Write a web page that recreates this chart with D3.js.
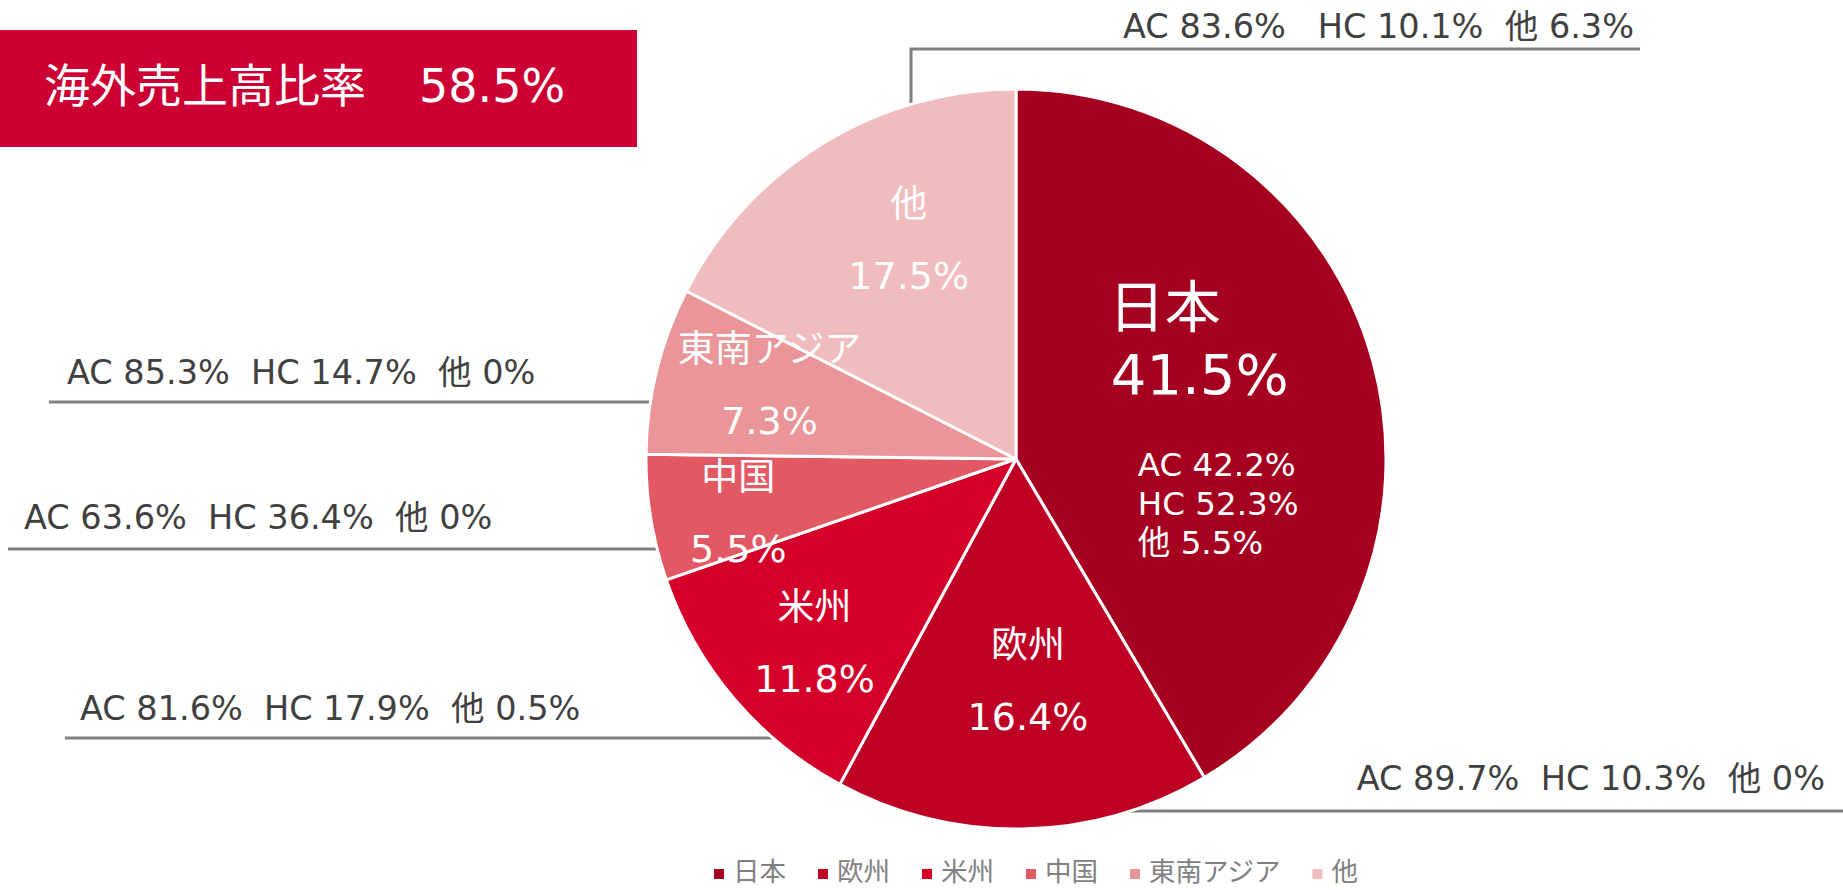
<!DOCTYPE html>
<html>
<head>
<meta charset="utf-8">
<script src="https://cdn.jsdelivr.net/npm/d3@7"></script>
<style>
  body { margin: 0; background: #fff; }
  text { white-space: pre; }
</style>
</head>
<body>
<div id="chart"></div>
<script>
// Data
var regions = ['日本', '欧州', '米州', '中国', '東南アジア', '他'];
var shares = [41.5, 16.4, 11.8, 5.5, 7.3, 17.5];
var acShares = [42.2, 89.7, 81.6, 63.6, 85.3, 83.6];
var hcShares = [52.3, 10.3, 17.9, 36.4, 14.7, 10.1];
var otherShares = [5.5, 0, 0.5, 0, 0, 6.3];
var overseasRatio = 58.5;
var colors = ['#A5001F', '#BF0025', '#D5002A', '#E35963', '#EA9597', '#F0BCBE'];

var data = regions.map(function (r, i) {
  return { name: r, share: shares[i], ac: acShares[i], hc: hcShares[i], other: otherShares[i], color: colors[i] };
});

var fmt = function (v) {
  return v === 0 ? '0%' : d3.format('.1f')(v) + '%';
};

// SVG
var chart_width = 1843;
var chart_height = 890;
var cx = 1016, cy = 459, radius = 370;
var fontLatin = '"DejaVu Sans", "Noto Sans CJK JP", sans-serif';

var svg = d3.select('#chart')
  .append('svg')
  .attr('width', chart_width)
  .attr('height', chart_height)
  .style('display', 'block');

// Title box
svg.append('rect')
  .attr('x', 0).attr('y', 30)
  .attr('width', 637).attr('height', 117)
  .attr('fill', '#CC0033');
svg.append('text')
  .attr('x', 44).attr('y', 102)
  .attr('fill', '#fff')
  .style('font-family', '"Noto Sans CJK JP", sans-serif')
  .style('font-size', '46px')
  .text('海外売上高比率');
svg.append('text')
  .attr('x', 419).attr('y', 102)
  .attr('fill', '#fff')
  .style('font-family', fontLatin)
  .style('font-size', '46px')
  .text(d3.format('.1f')(overseasRatio) + '%');

// Callout leader lines (drawn behind the pie)
// layout per region: line y, outer x end, text anchor point
var callouts = [
  null,
  { lineY: 811, x0: 1843, tx: 1825, ty: 790, anchor: 'end', sep: '  ' },
  { lineY: 738, x0: 65, tx: 80, ty: 720, anchor: 'start', sep: '  ' },
  { lineY: 549, x0: 8, tx: 24, ty: 529, anchor: 'start', sep: '  ' },
  { lineY: 402, x0: 49, tx: 67, ty: 384, anchor: 'start', sep: '  ' },
  { lineY: 49, x0: 1640, vx: 911, tx: 1634, ty: 38, anchor: 'end', sep: '   ' }
];

var lines = svg.append('g');
callouts.forEach(function (c, i) {
  if (!c) return;
  var d = data[i];
  var path = c.vx !== undefined
    ? 'M' + c.x0 + ',' + c.lineY + 'H' + c.vx + 'V' + cy
    : 'M' + c.x0 + ',' + c.lineY + 'H' + cx;
  lines.append('path')
    .attr('d', path)
    .attr('fill', 'none')
    .attr('stroke', '#808080')
    .attr('stroke-width', 3);
  lines.append('text')
    .attr('x', c.tx).attr('y', c.ty)
    .attr('text-anchor', c.anchor)
    .attr('fill', '#404040')
    .style('font-family', fontLatin)
    .style('font-size', '33.5px')
    .text('AC ' + fmt(d.ac) + c.sep + 'HC ' + fmt(d.hc) + '  他 ' + fmt(d.other));
});

// Pie
var pie = d3.pie().sort(null).value(function (d) { return d.share; });
var arc = d3.arc().innerRadius(0).outerRadius(radius);
var labelArc = d3.arc().innerRadius(radius * 0.7).outerRadius(radius * 0.7);

var g = svg.append('g').attr('transform', 'translate(' + cx + ',' + cy + ')');

g.selectAll('path.slice')
  .data(pie(data))
  .enter()
  .append('path')
  .attr('class', 'slice')
  .attr('d', arc)
  .attr('fill', function (d) { return d.data.color; })
  .attr('stroke', '#fff')
  .attr('stroke-width', 3)
  .attr('stroke-linejoin', 'round');

// Label nudges from the centroid (placement only)
var nudges = [[-155, -64], [7, -60], [-4, -7], [-22, -10], [5, -35], [28, -21]];

g.selectAll('g.label')
  .data(pie(data))
  .enter()
  .append('g')
  .attr('class', 'label')
  .each(function (d, i) {
    var c = labelArc.centroid(d);
    var x = c[0] + nudges[i][0];
    var y = c[1] + nudges[i][1];
    var sel = d3.select(this);
    if (i === 0) {
      sel.append('text')
        .attr('x', x - 2).attr('y', y)
        .attr('fill', '#fff')
        .style('font-family', fontLatin)
        .style('font-size', '56px')
        .text(d.data.name);
      sel.append('text')
        .attr('x', x).attr('y', y + 67)
        .attr('fill', '#fff')
        .style('font-family', fontLatin)
        .style('font-size', '56px')
        .text(fmt(d.data.share));
      var sub = ['AC ' + fmt(d.data.ac), 'HC ' + fmt(d.data.hc), '他 ' + fmt(d.data.other)];
      sub.forEach(function (s, k) {
        sel.append('text')
          .attr('x', x + 27).attr('y', y + 149 + k * 39)
          .attr('fill', '#fff')
          .style('font-family', fontLatin)
          .style('font-size', '32.5px')
          .text(s);
      });
    } else {
      sel.append('text')
        .attr('x', x).attr('y', y)
        .attr('text-anchor', 'middle')
        .attr('fill', '#fff')
        .style('font-family', fontLatin)
        .style('font-size', '37px')
        .text(d.data.name);
      sel.append('text')
        .attr('x', x).attr('y', y + 72)
        .attr('text-anchor', 'middle')
        .attr('fill', '#fff')
        .style('font-family', fontLatin)
        .style('font-size', '38px')
        .text(fmt(d.data.share));
    }
  });

// Legend
var legend = svg.append('g').attr('transform', 'translate(714,874)');
var lx = 0;
data.forEach(function (d) {
  legend.append('rect')
    .attr('x', lx).attr('y', -5)
    .attr('width', 10).attr('height', 10)
    .attr('fill', d.color);
  var t = legend.append('text')
    .attr('x', lx + 19).attr('y', 7)
    .attr('fill', '#808080')
    .style('font-family', '"Noto Sans CJK JP", sans-serif')
    .style('font-size', '26.5px')
    .text(d.name);
  lx += 19 + t.node().getComputedTextLength() + 32;
});
</script>
</body>
</html>
